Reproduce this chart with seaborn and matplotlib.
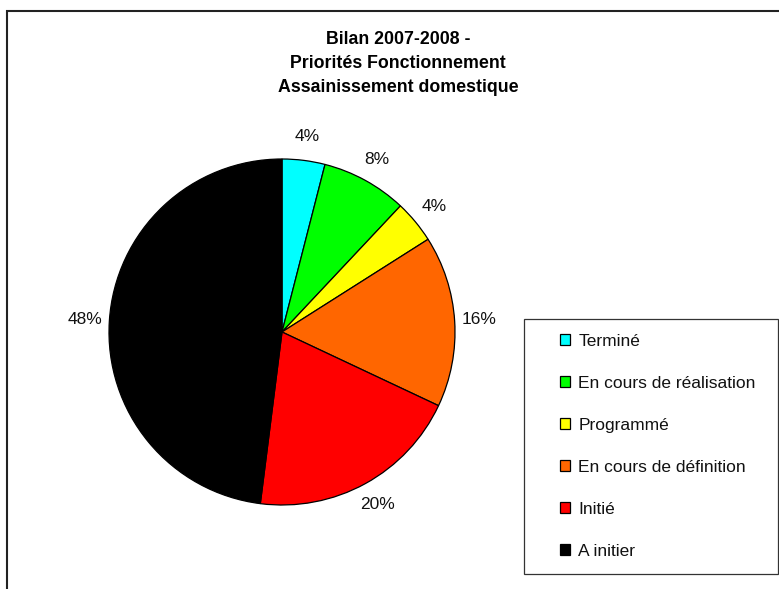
import matplotlib
matplotlib.use("Agg")
import matplotlib.pyplot as plt
from matplotlib.patches import Rectangle, Patch
import seaborn as sns

# data
categories = ["Terminé", "En cours de réalisation", "Programmé",
              "En cours de définition", "Initié", "A initier"]
shares = [4, 8, 4, 16, 20, 48]
slice_colors = ["#00FFFF", "#00FF00", "#FFFF00", "#FF6600", "#FF0000", "#000000"]
title_lines = ["Bilan 2007-2008 -", "Priorités Fonctionnement", "Assainissement domestique"]

sns.set_theme(style="white")
plt.rcParams['font.family'] = ['Liberation Sans', 'DejaVu Sans']

W, H = 779, 589
fig = plt.figure(figsize=(W / 100, H / 100), dpi=100)

# --- pie axes: centre at (282, 332) px, radius 173 px ---
cx, cy, r = 282, 332, 173
lim = 1.4
span = 2 * lim * r
ax = fig.add_axes([(cx - span / 2) / W, (H - cy - span / 2) / H, span / W, span / H])

labels = [f"{v}%" for v in shares]
wedges, texts = ax.pie(shares, labels=labels, colors=slice_colors, startangle=90,
                       counterclock=False, labeldistance=1.14,
                       wedgeprops=dict(edgecolor="black", linewidth=0.9),
                       textprops=dict(fontsize=12.5, color="#111111"))
for t in texts:
    t.set_ha("center")
    t.set_va("center")
ax.set_xlim(-lim, lim)
ax.set_ylim(-lim, lim)
ax.set_aspect("auto")
ax.axis("off")

# --- title (three lines) ---
for line, y in zip(title_lines, [40, 64, 88]):
    fig.text(398 / W, 1 - y / H, line, ha="center", va="center",
             fontsize=12.8, fontweight="bold", color="black")

# --- outer chart frame (cut at right / bottom) ---
fig.patches.append(Rectangle((6.5 / W, -0.02), 1.05, 1 - 11 / H + 0.02,
                             transform=fig.transFigure, fill=False,
                             edgecolor="#222222", linewidth=1.5))

# --- legend box ---
fig.patches.append(Rectangle((524 / W, 1 - 574 / H), 254 / W, 255 / H,
                             transform=fig.transFigure, fill=False,
                             edgecolor="#333333", linewidth=0.9))
handles = [Patch(facecolor=c, edgecolor="black", linewidth=0.9) for c in slice_colors]
fig.legend(handles, categories, loc="upper left",
           bbox_to_anchor=(560 / W, 1 - 334 / H), frameon=False,
           borderpad=0, borderaxespad=0, fontsize=12.5,
           handlelength=0.6, handleheight=0.6, handletextpad=0.45,
           labelspacing=1.55, labelcolor="#111111")

fig.savefig("out.png", dpi=100)
